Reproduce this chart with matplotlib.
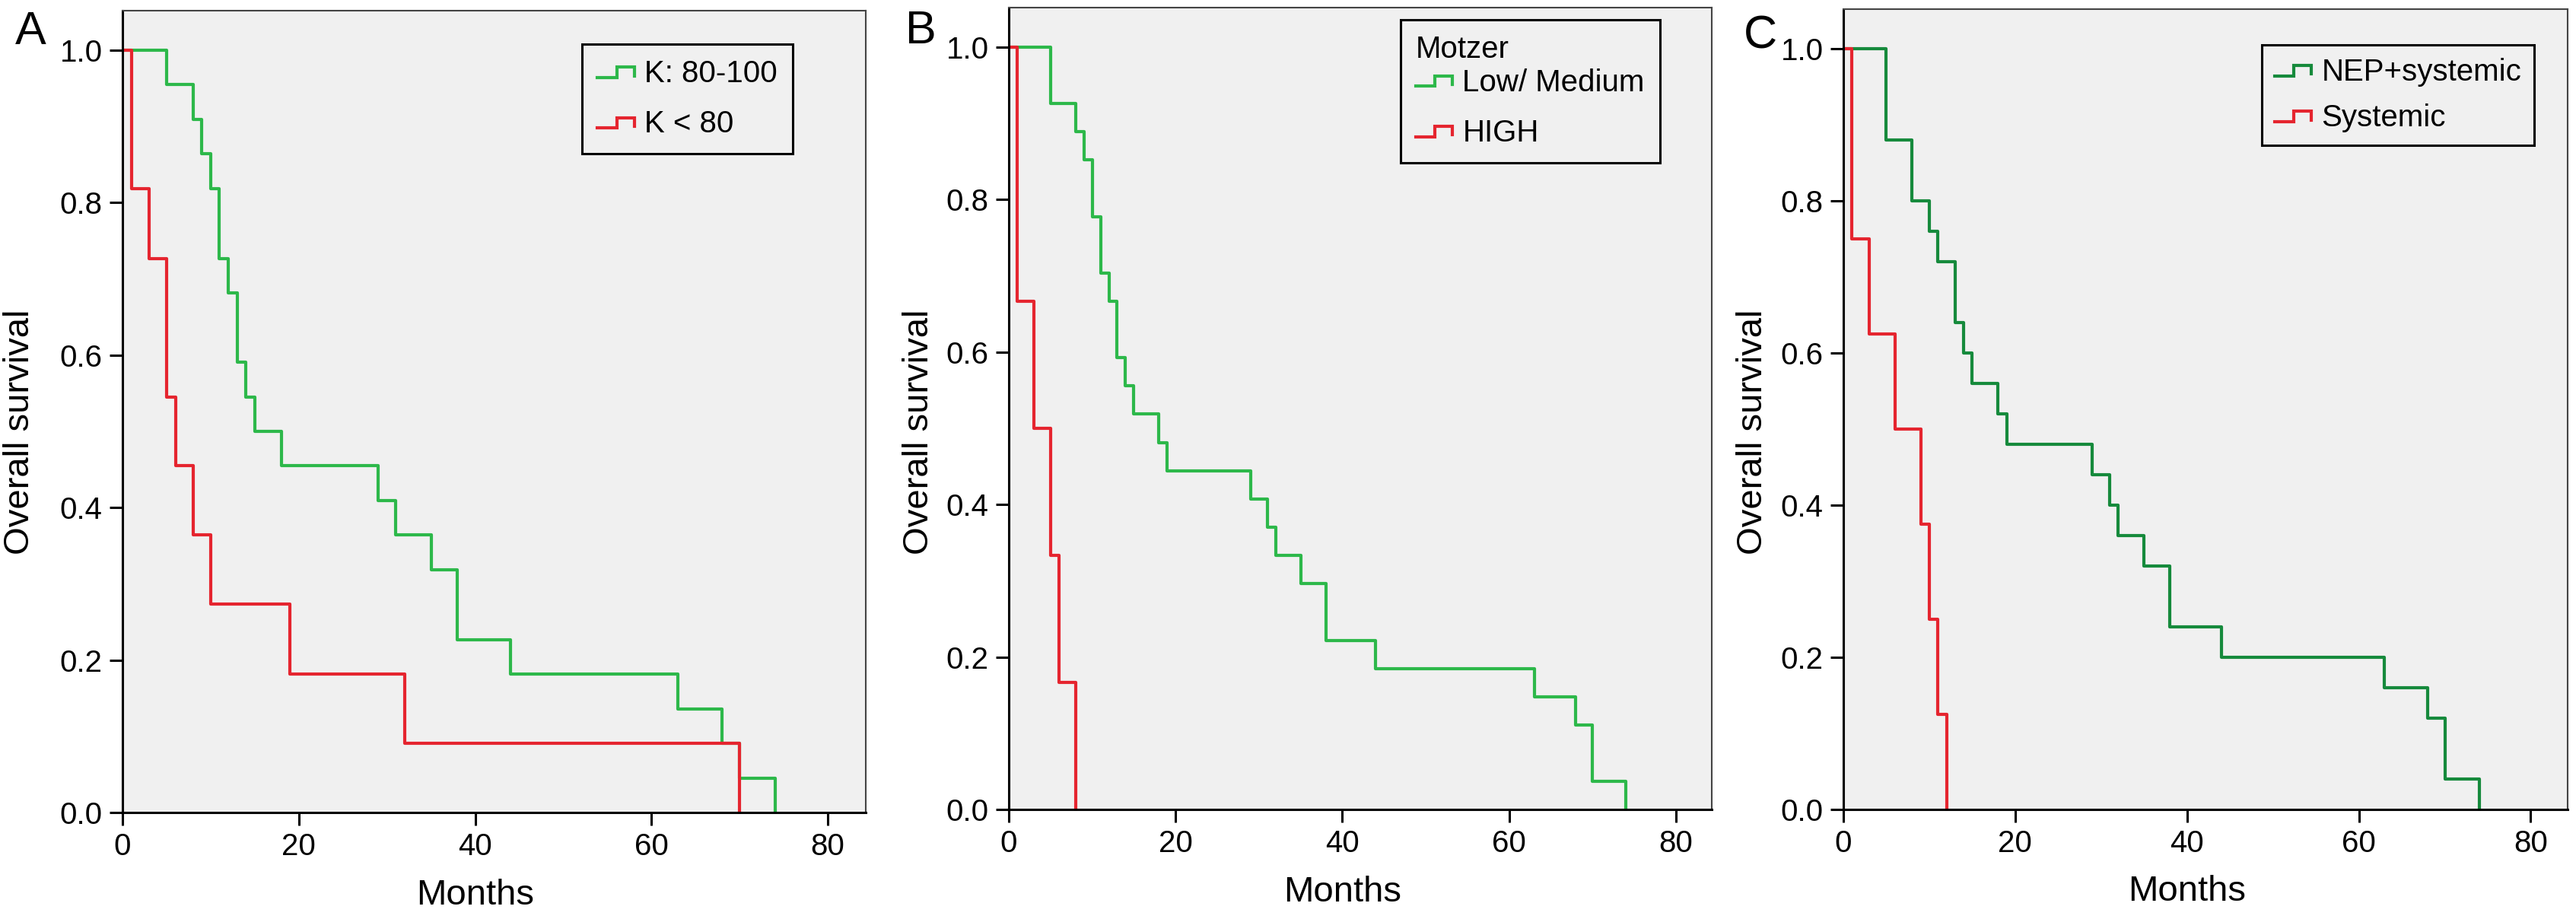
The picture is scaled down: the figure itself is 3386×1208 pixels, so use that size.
import numpy as np
import matplotlib
matplotlib.use("Agg")
import matplotlib.pyplot as plt
from matplotlib.lines import Line2D
from matplotlib.legend_handler import HandlerBase

plt.rcParams['font.family'] = ['Liberation Sans', 'DejaVu Sans']

# ---- data (Kaplan-Meier steps: time of drop, survival after drop) ----
a_hi_t = [5, 8, 9, 10, 11, 12, 13, 14, 15, 18, 29, 31, 35, 38, 44, 63, 68, 70, 74]
a_hi_s = [0.955, 0.909, 0.864, 0.818, 0.727, 0.682, 0.591, 0.545, 0.500, 0.455,
          0.409, 0.364, 0.318, 0.227, 0.182, 0.136, 0.091, 0.045, 0.0]
a_lo_t = [1, 3, 5, 6, 8, 10, 19, 32, 70]
a_lo_s = [0.818, 0.727, 0.545, 0.455, 0.364, 0.273, 0.182, 0.091, 0.0]

b_lm_t = [5, 8, 9, 10, 11, 12, 13, 14, 15, 18, 19, 29, 31, 32, 35, 38, 44, 63, 68, 70, 74]
b_lm_s = [0.926, 0.889, 0.852, 0.778, 0.704, 0.667, 0.593, 0.556, 0.519, 0.481, 0.444,
          0.407, 0.370, 0.333, 0.296, 0.222, 0.185, 0.148, 0.111, 0.037, 0.0]
b_hi_t = [1, 3, 5, 6, 8]
b_hi_s = [0.667, 0.500, 0.333, 0.167, 0.0]

c_nep_t = [5, 8, 10, 11, 13, 14, 15, 18, 19, 29, 31, 32, 35, 38, 44, 63, 68, 70, 74]
c_nep_s = [0.88, 0.80, 0.76, 0.72, 0.64, 0.60, 0.56, 0.52, 0.48, 0.44, 0.40, 0.36,
           0.32, 0.24, 0.20, 0.16, 0.12, 0.04, 0.0]
c_sys_t = [1, 3, 6, 9, 10, 11, 12]
c_sys_s = [0.75, 0.625, 0.5, 0.375, 0.25, 0.125, 0.0]

x_ticks = [0, 20, 40, 60, 80]
y_ticks = [0.0, 0.2, 0.4, 0.6, 0.8, 1.0]

GREEN = '#2db84a'
DKGREEN = '#168a3c'
RED = '#e5252f'
BG = '#f0f0f0'

W, H = 3386, 1208


class StepHandler(HandlerBase):
    # little step glyph like the SPSS legend
    def create_artists(self, legend, orig_handle, xdescent, ydescent,
                       width, height, fontsize, trans):
        xs = np.array([0.0, 0.52, 0.52, 1.0, 1.0]) * width - xdescent
        ys = np.array([0.22, 0.22, 0.7, 0.7, 0.3]) * height - ydescent
        ln = Line2D(xs, ys, color=orig_handle.get_color(),
                    lw=orig_handle.get_linewidth(), solid_joinstyle='miter')
        ln.set_transform(trans)
        return [ln]


fig = plt.figure(figsize=(W / 100, H / 100), dpi=100)

# axes boxes in pixels: left, right, top, bottom
boxes = [(161, 1138, 14, 1068), (1326, 2250, 10, 1064), (2423, 3375, 12, 1064)]
letters = ['A', 'B', 'C']
letter_pos = [(20, 14), (1190, 13), (2292, 19)]
ylab_x = [26, 1208, 2304]

curves = [
    [(a_hi_t, a_hi_s, GREEN, 'K: 80-100'), (a_lo_t, a_lo_s, RED, 'K < 80')],
    [(b_lm_t, b_lm_s, GREEN, 'Low/ Medium'), (b_hi_t, b_hi_s, RED, 'HIGH')],
    [(c_nep_t, c_nep_s, DKGREEN, 'NEP+systemic'), (c_sys_t, c_sys_s, RED, 'Systemic')],
]
leg_anchor = [(1042, 58), (2182, 26), (3331, 59)]
leg_title = [None, 'Motzer', None]
leg_spacing = [0.7, 0.7, 0.55]
leg_pad = [0.5, 0.5, 0.42]

for i in range(3):
    l, r, t, b = boxes[i]
    ax = fig.add_axes([l / W, 1 - b / H, (r - l) / W, (b - t) / H])
    ax.set_facecolor(BG)
    handles = []
    for tt, ss, col, lab in curves[i]:
        xs = [0] + list(tt)
        ys = [1.0] + list(ss)
        ln, = ax.step(xs, ys, where='post', color=col, lw=3.0, label=lab)
        handles.append(ln)
    ax.set_xlim(0, 84.3)
    ax.set_ylim(0, 1.052)
    ax.set_xticks(x_ticks)
    ax.set_yticks(y_ticks)
    ax.set_yticklabels(['%.1f' % v for v in y_ticks])
    ax.tick_params(axis='both', direction='out', length=12, width=2.2,
                   labelsize=29, pad=7, color='black')
    for s in ['left', 'bottom']:
        ax.spines[s].set_linewidth(2.2)
        ax.spines[s].set_color('black')
    for s in ['top', 'right']:
        ax.spines[s].set_linewidth(1.5)
        ax.spines[s].set_color('#444444')

    # axis labels
    ax.text(40, -0.103, 'Months', transform=ax.get_xaxis_transform(),
            ha='center', va='center', fontsize=34)
    fig.text(ylab_x[i] / W, 1 - 568 / H, 'Overall survival', rotation=90,
             ha='center', va='center', fontsize=34)
    fig.text(letter_pos[i][0] / W, 1 - letter_pos[i][1] / H, letters[i],
             ha='left', va='top', fontsize=44)

    ax_x, ax_y = leg_anchor[i]
    leg = ax.legend(handles=handles, title=leg_title[i],
                    handler_map={Line2D: StepHandler()},
                    loc='upper right', bbox_to_anchor=(ax_x / W, 1 - ax_y / H),
                    bbox_transform=fig.transFigure, borderaxespad=0,
                    fontsize=29, title_fontsize=29, frameon=True, fancybox=False,
                    edgecolor='black', facecolor=BG, framealpha=1,
                    handlelength=1.2, handletextpad=0.33,
                    labelspacing=leg_spacing[i], borderpad=leg_pad[i])
    leg.get_frame().set_linewidth(2.2)
    if leg_title[i]:
        leg._legend_box.align = 'left'
        leg._legend_box.sep = 4  # title sits close to the first entry

fig.savefig('out.png', dpi=100)
